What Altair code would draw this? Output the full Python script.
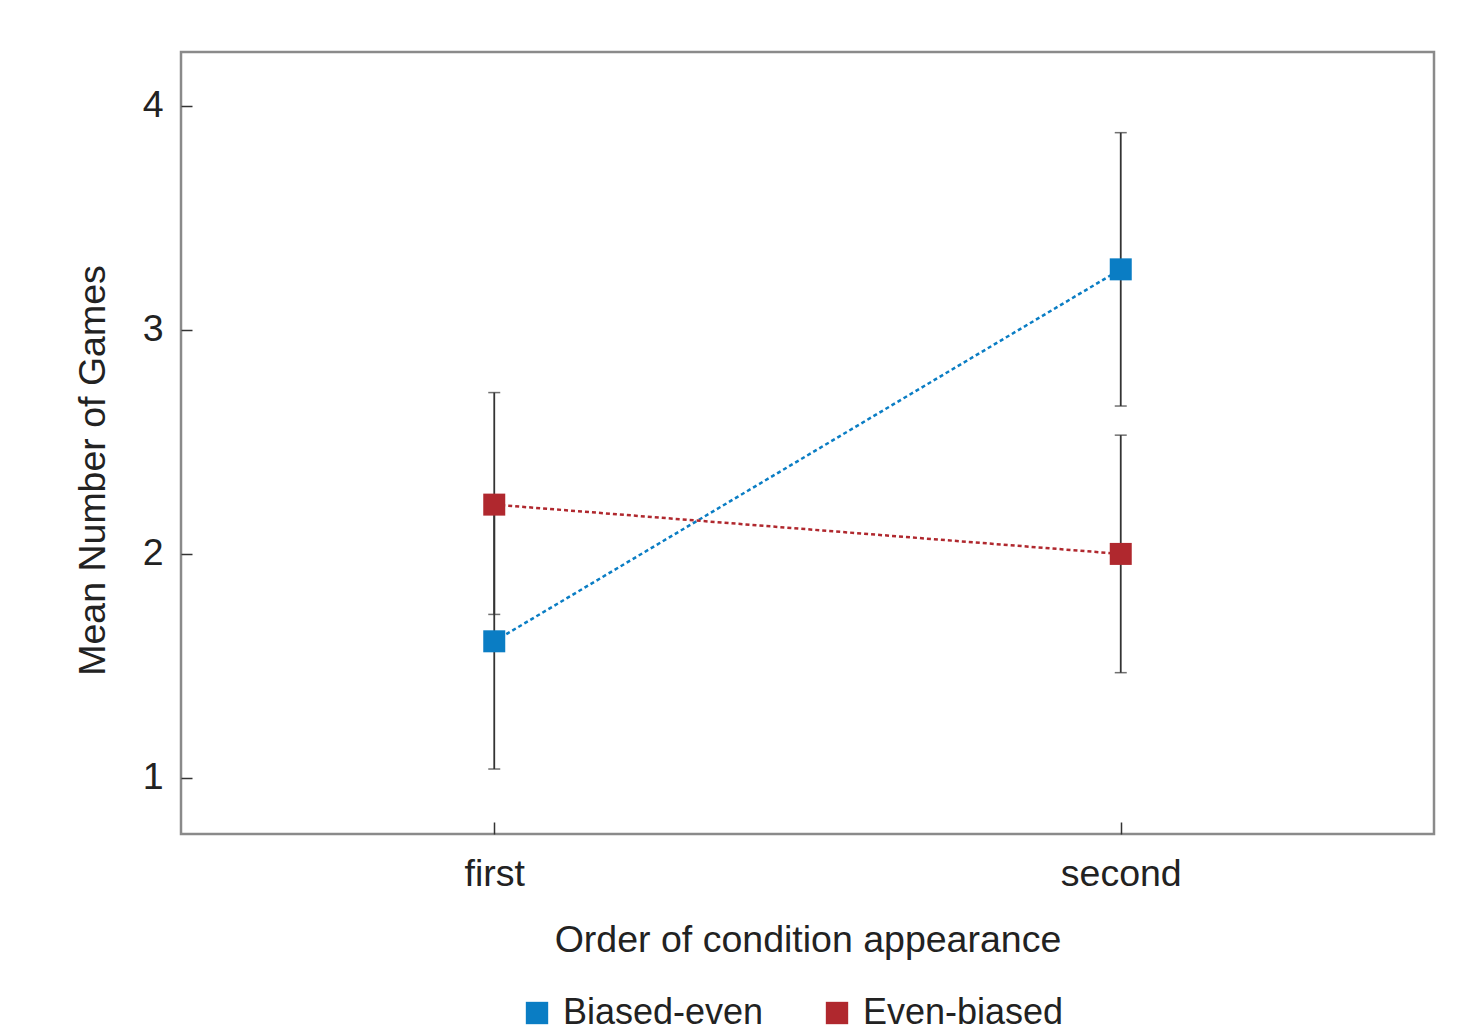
import altair as alt
import pandas as pd

order = ["first", "second"]
conditions = ["Biased-even", "Even-biased"]
biased_even_mean = [1.61, 3.27]
biased_even_lo = [1.04, 2.66]
biased_even_hi = [2.18, 3.88]
even_biased_mean = [2.22, 2.00]
even_biased_lo = [1.73, 1.47]
even_biased_hi = [2.72, 2.53]
y_ticks = [1, 2, 3, 4]
colors = ["#0a7dc4", "#b0282e"]

rows = []
for i, o in enumerate(order):
    rows.append({"order": o, "cond": conditions[0], "mean": biased_even_mean[i],
                 "lo": biased_even_lo[i], "hi": biased_even_hi[i]})
    rows.append({"order": o, "cond": conditions[1], "mean": even_biased_mean[i],
                 "lo": even_biased_lo[i], "hi": even_biased_hi[i]})
df = pd.DataFrame(rows)

FONT = "Liberation Sans"
FS = 37.5

x = alt.X("order:O", sort=order, scale=alt.Scale(type="point", padding=0.5),
          axis=alt.Axis(title="Order of condition appearance", labelAngle=0,
                        offset=-12, tickSize=12, labelPadding=21, titlePadding=29,
                        domain=False, tickColor="#333333", tickWidth=1.5,
                        labelFontSize=FS, titleFontSize=FS, labelFont=FONT, titleFont=FONT,
                        labelColor="#222222", titleColor="#222222", titleFontWeight="normal"))
y_scale = alt.Scale(domain=[0.75, 4.24], nice=False, zero=False)
y_axis = alt.Axis(title="Mean Number of Games", values=y_ticks, format="d",
                  offset=-11, tickSize=11, labelPadding=18, grid=False, domain=False,
                  tickColor="#333333", tickWidth=1.5,
                  labelFontSize=FS, titleFontSize=FS, labelFont=FONT, titleFont=FONT,
                  labelColor="#222222", titleColor="#222222", titleFontWeight="normal",
                  titleY=418, titlePadding=30)
color = alt.Color("cond:N", scale=alt.Scale(domain=conditions, range=colors),
                  legend=alt.Legend(title=None, orient="none", legendX=338, legendY=943,
                                    direction="horizontal", symbolType="square",
                                    symbolSize=500, symbolStrokeWidth=0,
                                    labelFontSize=36, labelFont=FONT, labelColor="#222222",
                                    labelLimit=500, labelOffset=8, columnPadding=55))

base = alt.Chart(df)

lines = base.mark_line(strokeDash=[4, 3], strokeWidth=2.5).encode(
    x=x, y=alt.Y("mean:Q", scale=y_scale, axis=y_axis), color=color, detail="cond:N")

rules = base.mark_rule(color="#333333", strokeWidth=1.8).encode(
    x=x, y=alt.Y("lo:Q", scale=y_scale), y2="hi:Q")
caps_lo = base.mark_tick(color="#333333", size=12, thickness=1.5, orient="horizontal").encode(
    x=x, y=alt.Y("lo:Q", scale=y_scale))
caps_hi = base.mark_tick(color="#333333", size=12, thickness=1.5, orient="horizontal").encode(
    x=x, y=alt.Y("hi:Q", scale=y_scale))

points = base.mark_square(size=484, opacity=1, filled=True).encode(
    x=x, y=alt.Y("mean:Q", scale=y_scale), color=color)

chart = alt.layer(lines, rules, caps_lo, caps_hi, points).properties(
    width=1253, height=782,
    autosize=alt.AutoSizeParams(type="none"),
    padding={"left": 181, "top": 52, "right": 23, "bottom": 192},
    background="white",
).configure_view(stroke="#8a8a8a", strokeWidth=2.5)

chart.save("out.html", embed_options={"renderer": "svg", "actions": False})
